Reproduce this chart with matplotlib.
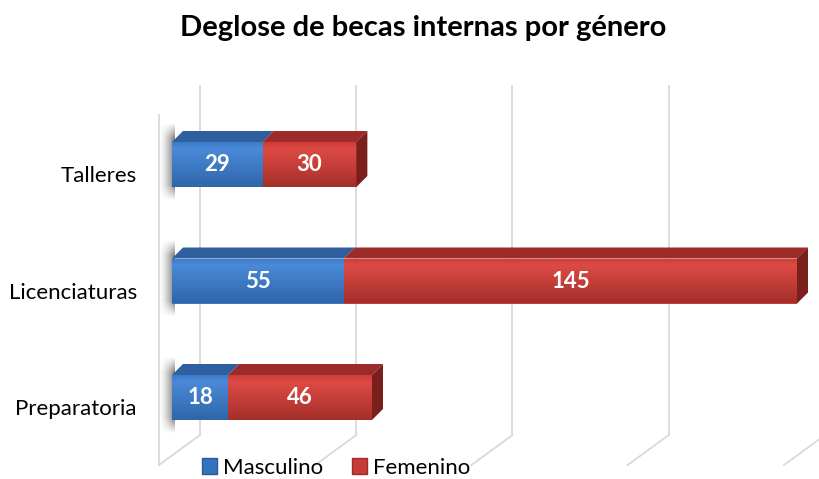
import numpy as np
import matplotlib
matplotlib.use("Agg")
import matplotlib.pyplot as plt
from matplotlib.patches import Polygon, Patch
from matplotlib.colors import to_rgb

# ---- data ----
categories = ["Preparatoria", "Licenciaturas", "Talleres"]
masculino = [18, 55, 29]
femenino = [46, 145, 30]
series_names = ["Masculino", "Femenino"]
title = "Deglose de becas internas por género"
grid_values = [0, 50, 100, 150, 200]

# ---- layout (pixel-based mapping) ----
W, Hh = 820, 479
X0, SX = 172.0, 3.125      # pixel x of value 0 (bar front), pixels per unit
Y0, SY = 397.5, 116.5      # pixel y of first category centre, pixels per category

FONT = "Lato"
plt.rcParams['font.family'] = [FONT, 'DejaVu Sans']

fig = plt.figure(figsize=(W / 100, Hh / 100), dpi=100)
ax = fig.add_axes([0, 0, 1, 1])
ax.set_xlim((0 - X0) / SX, (W - X0) / SX)
ax.set_ylim((Y0 - Hh) / SY, (Y0 - 0) / SY)
ax.axis("off")

def px(dx):
    return dx / SX
def py(dy):
    return dy / SY

DX, DY = px(11), py(11)       # bar depth offset
BH = py(45)                   # bar front height

# ---- walls / gridlines ----
gcol = "#d9d9d9"
back_top, back_bot = (Y0 - 85) / SY, (Y0 - 435) / SY
front_bot = (Y0 - 465) / SY
front_top = (Y0 - 115) / SY
for v in grid_values:
    xb = v + px(28)
    xf = v - px(13)
    ax.plot([xb, xb], [back_top, back_bot], color=gcol, lw=1.3, zorder=1,
            solid_capstyle="butt")
    ax.plot([xb, xf], [back_bot, front_bot], color=gcol, lw=1.3, zorder=1)
ax.plot([-px(13), -px(13)], [front_top, front_bot], color=gcol, lw=1.3, zorder=1)

# ---- colours ----
blue_top_face = "#2f5f9f"
red_top_face = "#9c2b29"
red_side = "#7b1f1d"
blue_grad = ["#4a8ad8", "#3b7bc8", "#2f66aa"]
red_grad = ["#de4a44", "#cc3c38", "#a52f2b"]

def grad_img(cols):
    c = [np.array(to_rgb(k)) for k in cols]
    n = 60
    t = np.linspace(0, 1, n)
    arr = np.zeros((n, 2, 3))
    for i, tt in enumerate(t):
        if tt < 0.15:
            col = c[1] + (c[0] - c[1]) * (tt / 0.15)
        else:
            col = c[0] + (c[2] - c[0]) * ((tt - 0.15) / 0.85)
        arr[i, :, :] = col
    return arr

def shadow(left, yc):
    n = 40
    xs = np.linspace(0, 1, n)
    ys = np.linspace(0, 1, n)
    a = np.zeros((n, n, 4))
    for i, yy in enumerate(ys):
        for j, xx in enumerate(xs):
            fy = min(1, yy / 0.2) * min(1, (1 - yy) / 0.2)
            fx = xx ** 1.5
            a[i, j] = [0.3, 0.3, 0.3, 0.75 * fx * fy]
    ext = [left - px(13), left + px(3), yc - BH / 2 - py(14), yc + BH / 2 + DY + py(8)]
    ax.imshow(a, extent=ext, origin="upper", aspect="auto", zorder=2,
              interpolation="bilinear")

for i, cat in enumerate(categories):
    yc = i
    shadow(0, yc)
    vals = [masculino[i], femenino[i]]
    tops = [blue_top_face, red_top_face]
    grads = [blue_grad, red_grad]
    left = 0
    for k, v in enumerate(vals):
        bars = ax.barh([yc], [v], left=left, height=BH, color=grads[k][1],
                       edgecolor="none", zorder=3)
        rect = bars.patches[0]
        im = ax.imshow(grad_img(grads[k]), extent=[left, left + v, yc - BH / 2, yc + BH / 2],
                       origin="upper", aspect="auto", zorder=3.5, interpolation="bilinear")
        im.set_clip_path(rect)
        topf = Polygon([(left, yc + BH / 2), (left + v, yc + BH / 2),
                        (left + v + DX, yc + BH / 2 + DY), (left + DX, yc + BH / 2 + DY)],
                       closed=True, facecolor=tops[k], edgecolor="none", zorder=3.6)
        ax.add_patch(topf)
        ax.text(left + v / 2, yc, str(v), ha="center", va="center", color="white",
                fontsize=16, fontweight="bold", zorder=5)
        left += v
    side = Polygon([(left, yc - BH / 2), (left, yc + BH / 2), (left + DX, yc + BH / 2 + DY),
                    (left + DX, yc - BH / 2 + DY)], closed=True, facecolor=red_side,
                   edgecolor="none", zorder=3.6)
    ax.add_patch(side)
    ax.text(-px(35), yc - 0.1, cat, ha="right", va="center", fontsize=16, color="#000000")

fig.text(423 / W, 1 - 28 / Hh, title, ha="center", va="center", fontsize=21,
         fontweight="bold")

handles = [Patch(facecolor="#3572bd", edgecolor="#2a5a96"),
           Patch(facecolor="#c83c38", edgecolor="#9c2b29")]
fig.legend(handles, series_names, loc="center", bbox_to_anchor=(336 / W, 1 - 468 / Hh),
           ncol=2, frameon=False, fontsize=16, handlelength=0.7, handleheight=0.7,
           handletextpad=0.25, columnspacing=1.3, borderpad=0)

fig.savefig("out.png", dpi=100)
